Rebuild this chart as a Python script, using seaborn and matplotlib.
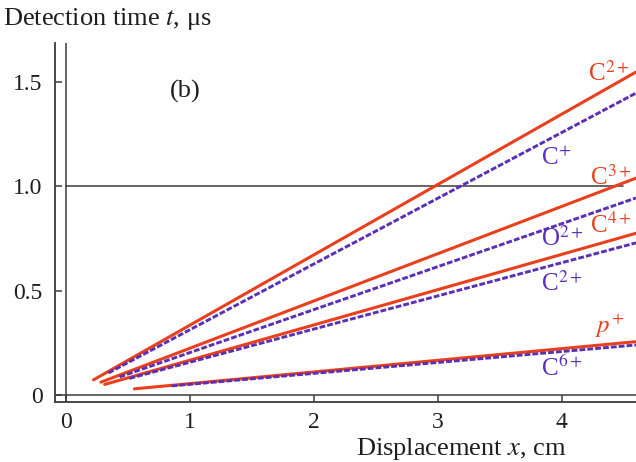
import matplotlib
matplotlib.use("Agg")
import matplotlib.pyplot as plt
import seaborn as sns
import pandas as pd

# ---- data ----
series_names = ["C2+ (red)", "C+ (blue)", "C3+ (red)", "O2+ (blue)",
                "C4+ (red)", "C2+ (blue)", "p+ (red)", "C6+ (blue)"]
x_start = [0.22, 0.34, 0.28, 0.43, 0.31, 0.51, 0.55, 0.85]
t_start = [0.074, 0.107, 0.063, 0.088, 0.052, 0.081, 0.031, 0.045]
x_end = [4.60, 4.60, 4.60, 4.60, 4.60, 4.60, 4.60, 4.60]
t_end = [1.548, 1.447, 1.040, 0.945, 0.776, 0.730, 0.257, 0.241]
kind = ["red", "blue", "red", "blue", "red", "blue", "red", "blue"]

label_texts = [r"C$^{2+}$", r"C$^{+}$", r"C$^{3+}$", r"O$^{2+}$",
               r"C$^{4+}$", r"C$^{2+}$", r"$p^{+}$", r"C$^{6+}$"]
label_x = [4.21, 3.83, 4.23, 3.83, 4.23, 3.83, 4.27, 3.83]
label_y = [1.506, 1.104, 1.008, 0.715, 0.778, 0.500, 0.299, 0.093]

x_ticks = [0, 1, 2, 3, 4]
x_ticklabels = ["0", "1", "2", "3", "4"]
y_ticks = [0, 0.5, 1.0, 1.5]
y_ticklabels = ["0", "0.5", "1.0", "1.5"]
ref_t = 1.0

# ---- styling ----
sns.set_theme(style="white")
plt.rcParams["font.family"] = ["Liberation Serif", "DejaVu Serif"]
plt.rcParams["mathtext.fontset"] = "stix"

RED = "#e8401c"
BLUE = "#5a30b6"
AXC = "#3a3a3a"
TXT = "#1e1e1e"

rows = []
for name, xs, ts, xe, te, k in zip(series_names, x_start, t_start, x_end, t_end, kind):
    rows.append({"series": name, "x": xs, "t": ts, "kind": k})
    rows.append({"series": name, "x": xe, "t": te, "kind": k})
df = pd.DataFrame(rows)

fig = plt.figure(figsize=(6.36, 4.62), dpi=100)
ax = fig.add_axes([55 / 636, 60 / 462, 581 / 636, 359 / 462])

ax.axhline(ref_t, xmin=0.0195, xmax=0.978, color=AXC, lw=1.1, zorder=1)
ax.axvline(0, color=AXC, lw=1.1, zorder=1)
ax.axhline(0, color=AXC, lw=1.1, zorder=1)

for name, k in zip(series_names, kind):
    sub = df[df["series"] == name]
    if k == "red":
        sns.lineplot(data=sub, x="x", y="t", ax=ax, color=RED, lw=2.2,
                     estimator=None, sort=False, zorder=3)
    else:
        sns.lineplot(data=sub, x="x", y="t", ax=ax, color=BLUE, lw=2.1,
                     estimator=None, sort=False, zorder=4)
        ax.lines[-1].set_dashes([2.0, 0.7])

for txt, lx, ly, k in zip(label_texts, label_x, label_y, kind):
    ax.text(lx, ly, txt, color=RED if k == "red" else BLUE, fontsize=18,
            ha="left", va="baseline")

ax.text(0.96, 1.453, "(b)", fontsize=19, ha="center", va="center", color=TXT)

ax.set_xlim(-0.091, 4.60)
ax.set_ylim(-0.032, 1.687)
ax.set_xticks(x_ticks)
ax.set_xticklabels(x_ticklabels)
ax.set_yticks(y_ticks)
ax.set_yticklabels(y_ticklabels)
ax.set_xlabel("")
ax.set_ylabel("")
ax.tick_params(axis="both", direction="in", length=5, width=1.1, color=AXC,
               labelsize=17, labelcolor=TXT)
ax.tick_params(axis="x", pad=7, bottom=True)
ax.tick_params(axis="y", pad=9, left=True)

for side in ["top", "right"]:
    ax.spines[side].set_visible(False)
for side in ["left", "bottom"]:
    ax.spines[side].set_color(AXC)
    ax.spines[side].set_linewidth(1.3)

fig.text(3 / 636, 1 - 25 / 462, "Detection time $t$, μs", fontsize=19,
         ha="left", va="baseline", color=TXT)
fig.text(566 / 636, 1 - 455 / 462, "Displacement $x$, cm", fontsize=19,
         ha="right", va="baseline", color=TXT)

fig.savefig("out.png", dpi=100)
